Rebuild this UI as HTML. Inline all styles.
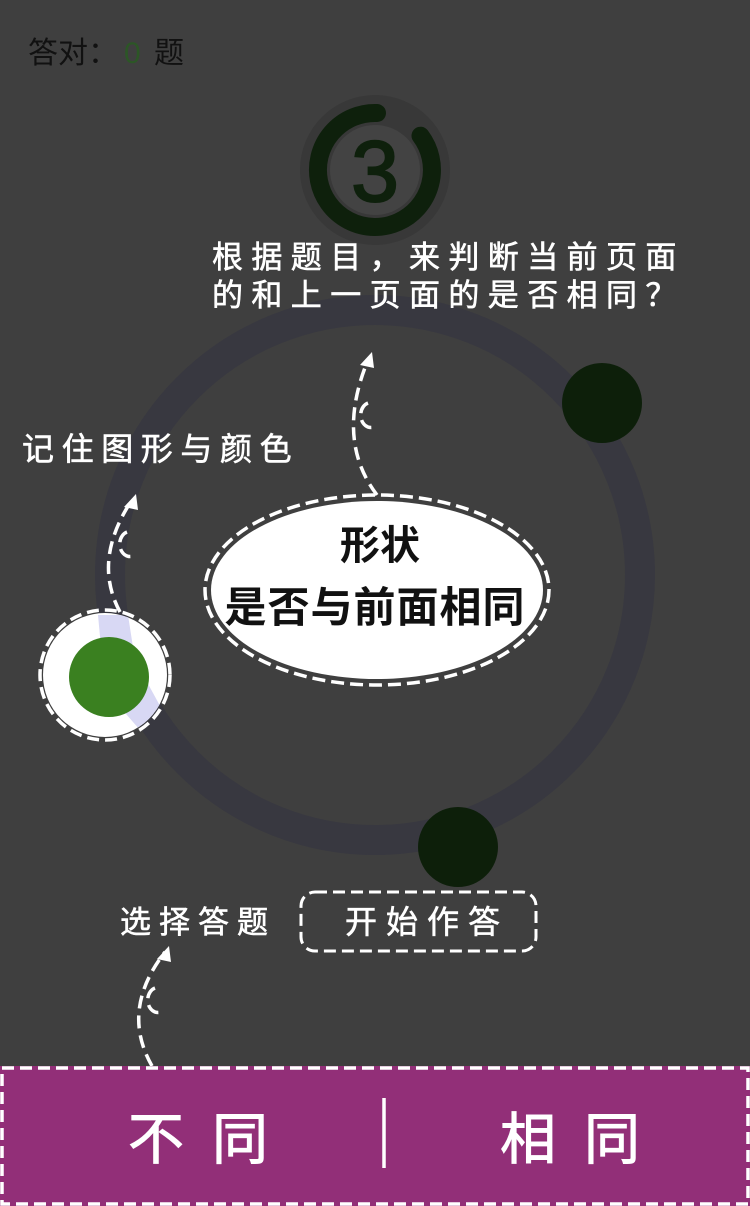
<!DOCTYPE html>
<html><head><meta charset="utf-8">
<style>
html,body{margin:0;padding:0;background:#3f3f3f;}
svg{display:block;}
text{font-family:"Liberation Sans","Noto Sans CJK SC",sans-serif;}
</style></head>
<body>
<svg width="750" height="1206" viewBox="0 0 750 1206">
<rect x="0" y="0" width="750" height="1206" fill="#3f3f3f"/>
<text x="28" y="63" font-size="30" fill="#111">答对：<tspan x="124" fill="#2c5626">0</tspan><tspan x="154">题</tspan></text>

<g>
<circle cx="375" cy="170" r="75" fill="#383838"/>
<circle cx="375" cy="170" r="45" fill="#434343"/>
<path d="M420.5,135.7 A57,57 0 1 1 377,113" fill="none" stroke="#0e200c" stroke-width="18" stroke-linecap="round"/>
<text x="375" y="201" font-size="86" text-anchor="middle" fill="#0e200c" stroke="#0e200c" stroke-width="2">3</text>
</g>

<circle cx="375" cy="575" r="265" fill="none" stroke="#383840" stroke-width="30"/>

<g fill="#fff" stroke="#fff" stroke-width="0.6">
<text x="212" y="268" font-size="31" letter-spacing="8.4">根据题目，来判断当前页面</text>
<text x="212" y="306" font-size="31" letter-spacing="8.4">的和上一页面的是否相同？</text>
<text x="22" y="460" font-size="32" letter-spacing="7.6">记住图形与颜色</text>
</g>

<circle cx="602" cy="403" r="40" fill="#0d1f0a"/>
<circle cx="458" cy="847" r="40" fill="#0d1f0a"/>

<g>
<circle cx="105" cy="675" r="62" fill="#fff"/>
<clipPath id="cc"><circle cx="105" cy="675" r="62"/></clipPath>
<path d="M98,615 L128,615 L135,660 L165,715 L140,730 L105,690 Z" fill="#d8d8f4" clip-path="url(#cc)"/>
<circle cx="105" cy="675" r="65" fill="none" stroke="#fff" stroke-width="3.5" stroke-dasharray="12,6"/>
<circle cx="109" cy="677" r="40" fill="#3a8020"/>
</g>

<g fill="none" stroke="#fff" stroke-width="3.5" stroke-dasharray="13,7">
<path d="M120,612 Q92,560 132,500"/>
<path d="M127,532 a9,11 0 1 0 6,24" />
<path d="M377,495 Q335,440 368,360"/>
<path d="M368,403 a9,11 0 1 0 6,24"/>
<path d="M152,1066 Q120,1010 165,952"/>
<path d="M155,988 a9,11 0 1 0 6,24"/>
</g>
<g fill="#fff">
<polygon points="136,494 124,507 138,510"/>
<polygon points="372,352 360,365 374,368"/>
<polygon points="169,946 157,959 171,962"/>
</g>

<g>
<ellipse cx="377" cy="590" rx="166" ry="89" fill="#fff"/>
<ellipse cx="377" cy="590" rx="172" ry="95" fill="none" stroke="#fff" stroke-width="3.5" stroke-dasharray="13,6"/>
<text x="380" y="559" font-size="40" font-weight="bold" text-anchor="middle" fill="#111">形状</text>
<text x="375" y="622" font-size="42" font-weight="bold" text-anchor="middle" fill="#111" letter-spacing="1">是否与前面相同</text>
</g>

<text x="120" y="933" font-size="31" fill="#fff" stroke="#fff" stroke-width="0.6" letter-spacing="8">选择答题</text>
<g>
<rect x="301" y="892" width="235" height="59" rx="14" fill="none" stroke="#fff" stroke-width="3" stroke-dasharray="12,6"/>
<text x="345" y="933" font-size="32" fill="#fff" stroke="#fff" stroke-width="0.6" letter-spacing="9">开始作答</text>
</g>

<g>
<rect x="0" y="1066" width="750" height="140" fill="#922f78"/>
<rect x="2" y="1068" width="746" height="136" fill="none" stroke="#fff" stroke-width="3.5" stroke-dasharray="12,6"/>
<line x1="384" y1="1098" x2="384" y2="1168" stroke="#fff" stroke-width="3.5"/>
<text x="128" y="1159" font-size="56" fill="#fff" stroke="#fff" stroke-width="1" letter-spacing="28">不同</text>
<text x="500" y="1159" font-size="56" fill="#fff" stroke="#fff" stroke-width="1" letter-spacing="28">相同</text>
</g>
</svg>
</body></html>
